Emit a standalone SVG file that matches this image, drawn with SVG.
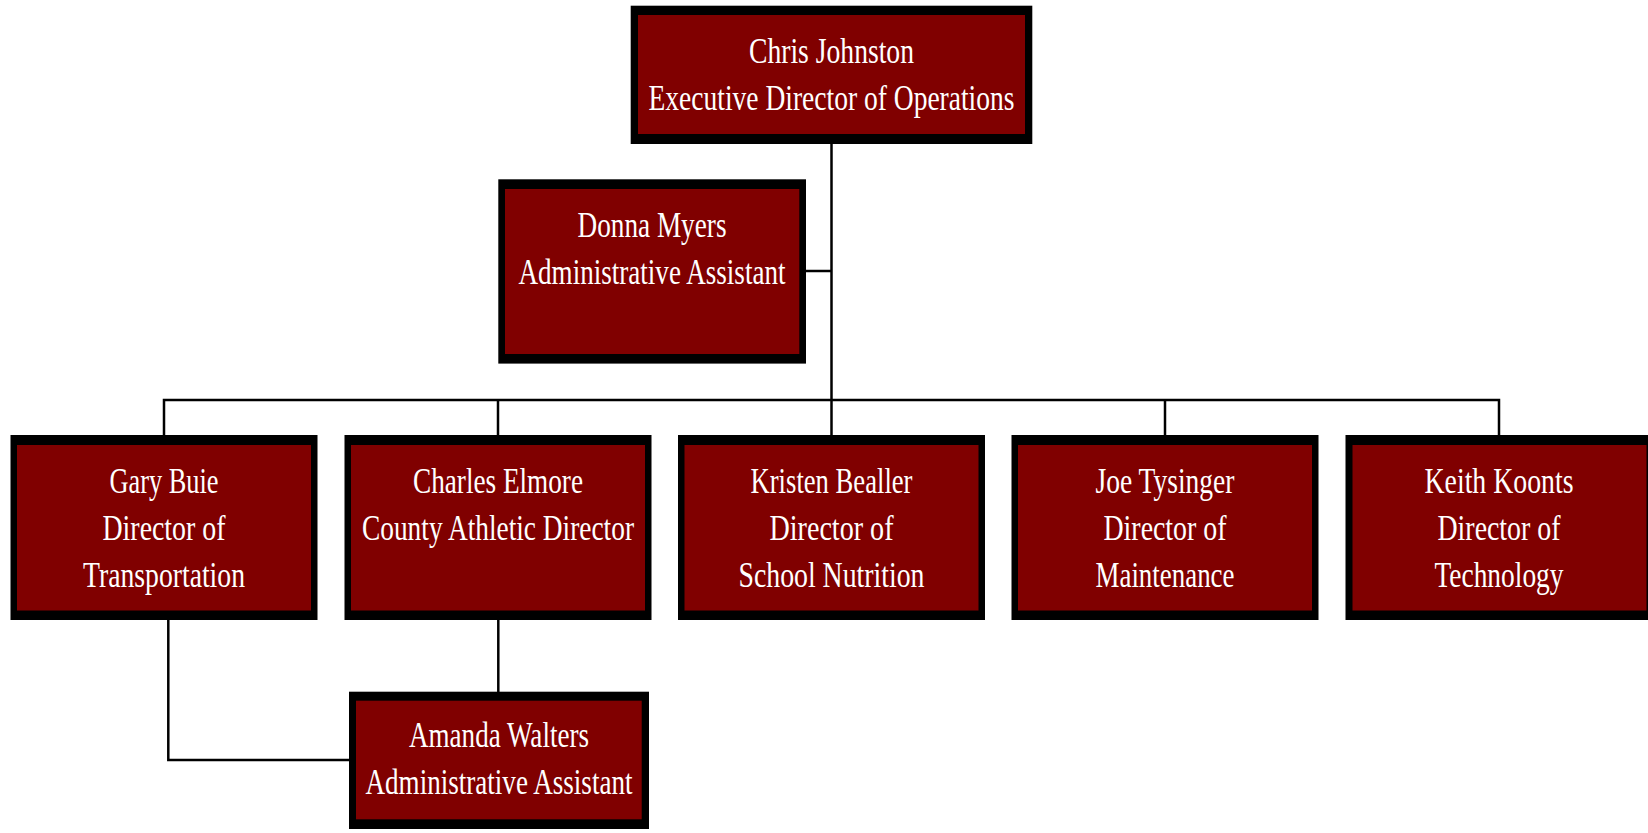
<svg xmlns="http://www.w3.org/2000/svg" width="1648" height="833" viewBox="0 0 1648 833">
<style>
.o{fill:#000000}
.i{fill:#800000}
.t{font-family:"Liberation Serif","Times New Roman",serif;font-size:35px;fill:#ffffff;text-anchor:middle}
.c{stroke:#000000;stroke-width:2.5;fill:none}
</style>
<rect width="1648" height="833" fill="#ffffff"/>
<g id="connectors">
<path class="c" d="M831.5 144 V435"/>
<path class="c" d="M806 271 H831.5"/>
<path class="c" d="M164 435 V400 H1499 V435"/>
<path class="c" d="M498 400 V435"/>
<path class="c" d="M1165 400 V435"/>
<path class="c" d="M498.3 620 V692"/>
<path class="c" d="M168.3 620 V760 H349"/>
</g>
<g id="chris">
<rect class="o" x="630.7" y="5.7" width="401.6" height="138.3"/>
<rect class="i" x="638" y="15" width="387" height="119"/>
<text class="t" x="831.5" y="62.5" textLength="165" lengthAdjust="spacingAndGlyphs">Chris Johnston</text>
<text class="t" x="831.5" y="109.5" textLength="366" lengthAdjust="spacingAndGlyphs">Executive Director of Operations</text>
</g>
<g id="donna">
<rect class="o" x="498.3" y="179.3" width="307.7" height="184.3"/>
<rect class="i" x="505" y="189" width="294.3" height="165"/>
<text class="t" x="652" y="236.5" textLength="149" lengthAdjust="spacingAndGlyphs">Donna Myers</text>
<text class="t" x="652" y="283.5" textLength="267" lengthAdjust="spacingAndGlyphs">Administrative Assistant</text>
</g>
<g id="gary">
<rect class="o" x="10.5" y="435" width="307" height="185"/>
<rect class="i" x="17" y="445" width="294" height="165.5"/>
<text class="t" x="164" y="492.5" textLength="109" lengthAdjust="spacingAndGlyphs">Gary Buie</text>
<text class="t" x="164" y="539.5" textLength="123" lengthAdjust="spacingAndGlyphs">Director of</text>
<text class="t" x="164" y="586.5" textLength="162" lengthAdjust="spacingAndGlyphs">Transportation</text>
</g>
<g id="charles">
<rect class="o" x="344.5" y="435" width="307" height="185"/>
<rect class="i" x="351" y="445" width="294" height="165.5"/>
<text class="t" x="498" y="492.5" textLength="170" lengthAdjust="spacingAndGlyphs">Charles Elmore</text>
<text class="t" x="498" y="539.5" textLength="272" lengthAdjust="spacingAndGlyphs">County Athletic Director</text>
</g>
<g id="kristen">
<rect class="o" x="678" y="435" width="307" height="185"/>
<rect class="i" x="684.5" y="445" width="294" height="165.5"/>
<text class="t" x="831.5" y="492.5" textLength="162" lengthAdjust="spacingAndGlyphs">Kristen Bealler</text>
<text class="t" x="831.5" y="539.5" textLength="124" lengthAdjust="spacingAndGlyphs">Director of</text>
<text class="t" x="831.5" y="586.5" textLength="186" lengthAdjust="spacingAndGlyphs">School Nutrition</text>
</g>
<g id="joe">
<rect class="o" x="1011.5" y="435" width="307" height="185"/>
<rect class="i" x="1018" y="445" width="294" height="165.5"/>
<text class="t" x="1165" y="492.5" textLength="139" lengthAdjust="spacingAndGlyphs">Joe Tysinger</text>
<text class="t" x="1165" y="539.5" textLength="123" lengthAdjust="spacingAndGlyphs">Director of</text>
<text class="t" x="1165" y="586.5" textLength="139" lengthAdjust="spacingAndGlyphs">Maintenance</text>
</g>
<g id="keith">
<rect class="o" x="1345.5" y="435" width="307" height="185"/>
<rect class="i" x="1352.5" y="445" width="294" height="165.5"/>
<text class="t" x="1499" y="492.5" textLength="149" lengthAdjust="spacingAndGlyphs">Keith Koonts</text>
<text class="t" x="1499" y="539.5" textLength="123" lengthAdjust="spacingAndGlyphs">Director of</text>
<text class="t" x="1499" y="586.5" textLength="129" lengthAdjust="spacingAndGlyphs">Technology</text>
</g>
<g id="amanda">
<rect class="o" x="349" y="691.7" width="300" height="137.3"/>
<rect class="i" x="356" y="700.7" width="285.7" height="118.6"/>
<text class="t" x="499" y="747" textLength="180" lengthAdjust="spacingAndGlyphs">Amanda Walters</text>
<text class="t" x="499" y="794" textLength="267" lengthAdjust="spacingAndGlyphs">Administrative Assistant</text>
</g>
</svg>
